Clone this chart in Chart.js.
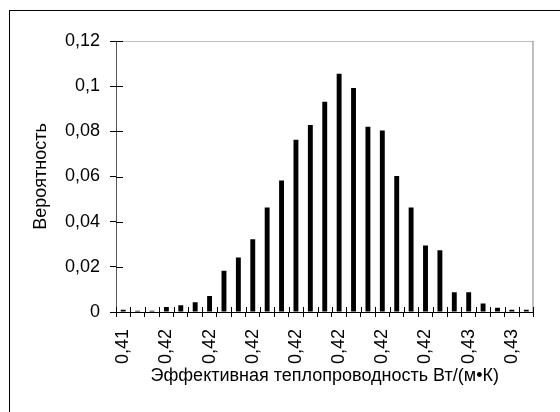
<!DOCTYPE html>
<html>
<head>
<meta charset="utf-8">
<script src="https://cdn.jsdelivr.net/npm/chart.js@4"></script>
<style>
  html, body { margin: 0; padding: 0; background: #fff; }
  #wrap { position: relative; width: 560px; height: 412px; overflow: hidden; }
  #frame { position: absolute; left: 9px; top: 10px; width: 700px; height: 600px; border: 1px solid #000; }
  canvas { position: absolute; left: 0; top: 0; }
</style>
</head>
<body>
<div id="wrap">
  <div id="frame"></div>
  <canvas id="c" width="560" height="412"></canvas>
</div>
<script>
const categories = ['0,41','','','0,42','','','0,42','','','0,42','','','0,42','','','0,42','','','0,42','','','0,42','','','0,43','','','0,43',''];
const probability = [0.001,0.0006,0.0006,0.0022,0.003,0.0043,0.0071,0.0183,0.0241,0.0322,0.0463,0.0582,0.0763,0.0828,0.0931,0.1055,0.0992,0.082,0.0804,0.0602,0.0463,0.0294,0.0273,0.0087,0.0087,0.0038,0.0019,0.001,0.001];
const yTicks = [0,0.02,0.04,0.06,0.08,0.1,0.12];
const yTitle = 'Вероятность';
const xTitle = 'Эффективная теплопроводность Вт/(м•К)';

const FONT = 'Liberation Sans, Arial, sans-serif';
const FS = 18;

const crossTicks = {
  id: 'crossTicks',
  afterDraw(chart) {
    const ctx = chart.ctx;
    const a = chart.chartArea;
    const xs = chart.scales.x, ys = chart.scales.y;
    ctx.save();
    ctx.lineWidth = 1;
    ctx.strokeStyle = '#c0c0c0';
    ctx.beginPath(); ctx.moveTo(a.left, a.top + 0.5); ctx.lineTo(a.right, a.top + 0.5); ctx.stroke();
    ctx.strokeStyle = '#808080';
    ctx.beginPath(); ctx.moveTo(a.right - 0.5, a.top); ctx.lineTo(a.right - 0.5, a.bottom); ctx.stroke();
    ctx.strokeStyle = '#000';
    const n = categories.length;
    const w = (xs.right - xs.left) / n;
    for (let i = 0; i <= n; i++) {
      const x = Math.round(xs.left + i * w) + 0.5;
      ctx.beginPath(); ctx.moveTo(x, a.bottom); ctx.lineTo(x, a.bottom - 5); ctx.stroke();
    }
    yTicks.forEach(v => {
      const y = Math.round(ys.getPixelForValue(v)) + 0.5;
      ctx.beginPath(); ctx.moveTo(a.left, y); ctx.lineTo(a.left + 7, y); ctx.stroke();
    });
    ctx.restore();
  }
};

new Chart(document.getElementById('c'), {
  type: 'bar',
  data: {
    labels: categories,
    datasets: [{
      data: probability,
      backgroundColor: '#000',
      borderWidth: 0,
      barPercentage: 0.34,
      categoryPercentage: 1.0
    }]
  },
  options: {
    responsive: false,
    animation: false,
    devicePixelRatio: 1,
    layout: { padding: { left: 0, top: 41, right: 7, bottom: 0 } },
    plugins: { legend: { display: false }, tooltip: { enabled: false } },
    scales: {
      x: {
        afterFit(s) { s.height = 100; },
        grid: { display: true, drawOnChartArea: false, offset: true, color: '#000', tickLength: 5, tickColor: '#000' },
        border: { display: true, color: '#000', width: 1 },
        ticks: {
          autoSkip: false, maxRotation: 90, minRotation: 90, padding: 12,
          color: '#000', font: { family: FONT, size: FS }
        },
        title: {
          display: true, text: xTitle, color: '#000',
          font: { family: FONT, size: FS }, padding: { top: 0, bottom: 25 }
        }
      },
      y: {
        min: 0, max: 0.12,
        afterFit(s) { s.width = 116; },
        afterBuildTicks(s) { s.ticks = yTicks.map(v => ({ value: v })); },
        grid: { display: true, drawOnChartArea: false, color: '#000', tickLength: 6, tickColor: '#000' },
        border: { display: true, color: '#555', width: 1 },
        ticks: {
          padding: 10, color: '#000', font: { family: FONT, size: FS },
          callback: v => String(Math.round(v * 100) / 100).replace('.', ',')
        },
        title: {
          display: true, text: yTitle, color: '#000',
          font: { family: FONT, size: FS }, padding: { top: 30, bottom: 0 }
        }
      }
    }
  },
  plugins: [crossTicks]
});
</script>
</body>
</html>
